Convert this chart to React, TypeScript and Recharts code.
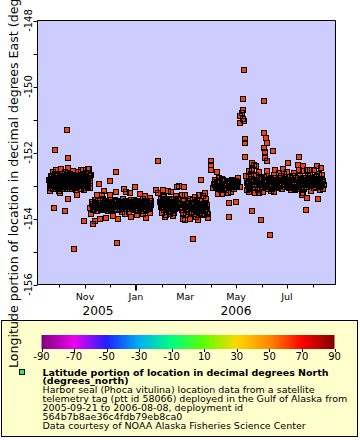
import React from 'react';
import { ScatterChart, Scatter, XAxis, YAxis, CartesianGrid, ReferenceArea } from 'recharts';

type Fix = [number, number];

// x: days since 2005-09-01 00:00 UTC, y: longitude (degrees_east)
const sepOctFixes: Fix[] = [
  [17.9, -152.84], [19.1, -153.03], [20.3, -152.72], [21.5, -152.93], [22.7, -152.6], [22.7, -153.12],
  [23.9, -152.78], [25.1, -152.99], [26.3, -152.54], [27.5, -152.87], [28.7, -152.69], [28.7, -153.09],
  [29.9, -153.18], [31.1, -152.78], [32.3, -152.51], [32.3, -152.96], [33.5, -152.72], [34.6, -153.06],
  [35.8, -152.84], [37.0, -152.6], [38.2, -152.93], [39.4, -152.75], [40.6, -152.48], [40.6, -153.12],
  [41.8, -152.87], [43.0, -152.66], [44.2, -152.99], [45.4, -152.78], [46.6, -152.57], [47.8, -152.9],
  [49.0, -153.09], [50.2, -152.72], [51.4, -152.93], [52.6, -152.6], [53.8, -153.03], [55.0, -152.81],
  [56.2, -152.54], [57.4, -152.96], [58.6, -152.72], [59.8, -153.15], [61.0, -152.87], [62.2, -152.63],
  [63.4, -153.03], [64.6, -152.78], [65.8, -152.51], [67.0, -152.93], [68.2, -152.69], [67.0, -153.09],
  [67.0, -152.72], [31.1, -153.24], [40.6, -153.42], [51.4, -153.3], [19.1, -153.18],
  [19.1, -152.87], [21.5, -152.75], [23.9, -153.03], [26.3, -152.81], [27.5, -153.06], [29.9, -152.93],
  [33.5, -152.87], [34.6, -152.78], [37.0, -153.03], [38.2, -152.72], [40.6, -152.96], [43.0, -152.84],
  [45.4, -153.06], [46.6, -152.9], [49.0, -152.78], [50.2, -152.99], [52.6, -152.84], [55.0, -153.03],
  [56.2, -152.75], [58.6, -152.93], [61.0, -152.75], [62.2, -152.99], [64.6, -152.9], [65.8, -152.72],
  [25.1, -152.66], [31.1, -153.03], [44.2, -152.81], [53.8, -152.9],
  [18.5, -152.95], [20.8, -153.08], [22.1, -152.82], [24.4, -152.9], [25.7, -153.1], [26.9, -152.7],
  [28.1, -152.86], [29.3, -153.0], [30.5, -152.75], [31.8, -152.92], [33.0, -153.1], [34.1, -152.66],
  [35.3, -152.97], [36.4, -152.8], [37.6, -153.12], [38.9, -152.86], [40.0, -152.67], [41.2, -153.02],
  [42.4, -152.76], [43.6, -152.95], [44.8, -152.7], [46.0, -153.1], [47.2, -152.83], [48.4, -152.68],
  [49.6, -152.96], [50.8, -153.13], [52.0, -152.77], [53.2, -152.98], [54.4, -152.7], [55.6, -152.9],
  [56.8, -153.1], [58.0, -152.83], [59.2, -152.66], [60.4, -152.97], [61.6, -153.07], [62.8, -152.8],
  [64.0, -152.96], [65.2, -152.62], [66.4, -152.86],
  [20.0, -152.9], [21.0, -152.8], [22.0, -153.0], [23.0, -152.86], [24.0, -152.94], [25.0, -152.76],
  [26.0, -152.92], [27.0, -153.02], [28.0, -152.78], [29.0, -152.9], [30.0, -153.04], [31.0, -152.84],
  [32.0, -152.74], [33.0, -152.98], [34.0, -152.88], [35.0, -152.76], [36.0, -153.0], [37.0, -152.9],
  [38.0, -152.8], [39.0, -153.04], [40.0, -152.88], [41.0, -152.76], [42.0, -152.96], [43.0, -153.06],
  [44.0, -152.9], [45.0, -152.74], [46.0, -152.86], [47.0, -153.0], [48.0, -152.8], [49.0, -152.92],
  [50.0, -152.84], [51.0, -153.04], [52.0, -152.94], [53.0, -152.78], [54.0, -152.88], [55.0, -152.74],
  [56.0, -152.98], [57.0, -152.84], [58.0, -153.02], [59.0, -152.88], [60.0, -152.78], [61.0, -152.98],
  [62.0, -152.9], [63.0, -152.76], [64.0, -153.06], [65.0, -152.84],
  [58.3, -152.54], [64.2, -152.5], [77.8, -152.96], [91.3, -152.86], [98.1, -152.59], [39.4, -151.32],
  [25.1, -151.93], [40.6, -152.17], [23.9, -153.69], [37.0, -153.78], [59.8, -154.08], [47.8, -154.93],
  [99.0, -154.75],
];

const novDecFixes: Fix[] = [
  [75.4, -153.3], [81.0, -153.28], [91.0, -153.3], [98.5, -153.2], [107.4, -153.11], [110.1, -153.2],
  [120.9, -153.05], [138.9, -153.38], [83.8, -153.18], [114.9, -153.24], [126.9, -153.27], [132.9, -153.33],
  [67.0, -153.69], [68.2, -153.85], [70.9, -154.18], [73.0, -154.08], [79.0, -154.0], [86.2, -153.97],
  [94.5, -153.91], [100.5, -154.0], [108.9, -153.85], [116.1, -153.94], [123.3, -153.88], [130.5, -153.85],
  [133.7, -153.99], [138.9, -153.82],
  [69.4, -153.57], [73.0, -153.45], [75.4, -153.69], [77.8, -153.54], [80.2, -153.75], [82.6, -153.42],
  [85.0, -153.63], [87.4, -153.51], [89.8, -153.72], [92.2, -153.45], [94.5, -153.6], [96.9, -153.75],
  [99.3, -153.48], [101.7, -153.66], [104.1, -153.54], [106.5, -153.42], [108.9, -153.63], [111.3, -153.51],
  [113.7, -153.72], [116.1, -153.45], [118.5, -153.6], [120.9, -153.75], [123.3, -153.48], [125.7, -153.63],
  [128.1, -153.54], [130.5, -153.42], [132.9, -153.66], [135.3, -153.51], [137.7, -153.6], [140.1, -153.48],
  [71.8, -153.63], [76.6, -153.48], [81.4, -153.6], [86.2, -153.54], [91.0, -153.63], [95.7, -153.51],
  [100.5, -153.57], [105.3, -153.69], [110.1, -153.57], [114.9, -153.63], [119.7, -153.51], [124.5, -153.69],
  [129.3, -153.6], [134.1, -153.75],
  [70.6, -153.75], [74.2, -153.57], [79.0, -153.66], [83.8, -153.75], [88.6, -153.6], [93.4, -153.69],
  [98.1, -153.63], [102.9, -153.75], [107.7, -153.51], [112.5, -153.63], [117.3, -153.72], [122.1, -153.6],
  [126.9, -153.69], [131.7, -153.54], [136.5, -153.69],
  [68.8, -153.5], [70.0, -153.7], [72.4, -153.53], [74.8, -153.78], [76.0, -153.62], [78.4, -153.44],
  [80.8, -153.67], [82.0, -153.52], [84.4, -153.7], [85.6, -153.46], [88.0, -153.78], [89.2, -153.55],
  [91.6, -153.7], [92.8, -153.52], [95.2, -153.66], [96.4, -153.45], [98.8, -153.71], [101.2, -153.5],
  [102.4, -153.62], [104.8, -153.8], [106.0, -153.56], [108.4, -153.7], [109.6, -153.46], [112.0, -153.57],
  [113.2, -153.8], [115.6, -153.52], [116.8, -153.68], [119.2, -153.43], [120.4, -153.62], [122.8, -153.55],
  [124.0, -153.78], [126.4, -153.5], [127.6, -153.66], [130.0, -153.57], [131.2, -153.76], [133.6, -153.47],
  [134.8, -153.62], [137.2, -153.54], [138.4, -153.72], [139.6, -153.58],
  [71.0, -153.56], [73.5, -153.66], [76.0, -153.52], [78.5, -153.6], [81.0, -153.7], [83.5, -153.56],
  [86.0, -153.66], [88.5, -153.5], [91.0, -153.56], [93.5, -153.62], [96.0, -153.56], [98.5, -153.5],
  [101.0, -153.6], [103.5, -153.7], [106.0, -153.64], [108.5, -153.54], [111.0, -153.66], [113.5, -153.56],
  [116.0, -153.58], [118.5, -153.68], [121.0, -153.54], [123.5, -153.6], [126.0, -153.56], [128.5, -153.7],
  [131.0, -153.62], [133.5, -153.56], [136.0, -153.66], [138.5, -153.52], [72.0, -153.7], [77.0, -153.62],
  [82.5, -153.48], [87.5, -153.66], [92.5, -153.74], [97.5, -153.6], [102.5, -153.54], [107.5, -153.6],
  [112.5, -153.5], [117.5, -153.54], [122.5, -153.68], [127.5, -153.58], [132.5, -153.5], [137.5, -153.64],
];

const febFixes: Fix[] = [
  [146.1, -153.15], [154.4, -153.15], [160.1, -153.17], [148.5, -153.24], [164.0, -153.21], [170.0, -153.33],
  [154.4, -153.33], [152.1, -153.54], [155.6, -153.75], [152.1, -153.42], [154.4, -153.66], [156.8, -153.51],
  [159.2, -153.72], [161.6, -153.45], [164.0, -153.6], [166.4, -153.75], [168.8, -153.51], [171.2, -153.66],
  [153.3, -153.69], [153.3, -153.82], [158.0, -153.88], [162.8, -153.85], [167.6, -153.82], [155.6, -153.36],
  [160.4, -153.57], [165.2, -153.42], [166.1, -153.93], [156.8, -153.94], [148.5, -152.27],
  [154.4, -153.57], [159.2, -153.48], [164.0, -153.69], [168.8, -153.63], [161.6, -153.79],
  [150.5, -153.5], [151.7, -153.65], [155.0, -153.45], [157.4, -153.6], [158.6, -153.4], [160.9, -153.68],
  [162.2, -153.52], [163.4, -153.78], [165.8, -153.55], [167.0, -153.7], [169.4, -153.58], [170.6, -153.45],
  [153.0, -153.6], [155.5, -153.52], [157.5, -153.7], [159.8, -153.6], [162.0, -153.66], [164.5, -153.5],
  [166.8, -153.62], [169.0, -153.7], [170.0, -153.56],
];

const marFixes: Fix[] = [
  [170.9, -153.05], [174.0, -153.03], [179.6, -153.05], [176.9, -153.3], [185.6, -153.53], [197.2, -153.28],
  [205.1, -153.24], [172.4, -153.42], [174.8, -153.6], [177.2, -153.75], [179.6, -153.48], [182.0, -153.88],
  [184.4, -153.66], [186.8, -153.42], [189.2, -153.79], [191.6, -153.57], [194.0, -153.94], [196.4, -153.69],
  [198.8, -153.48], [201.2, -153.85], [203.6, -153.63], [206.0, -153.42], [207.2, -153.79], [208.4, -153.97],
  [178.4, -154.0], [186.8, -154.0], [196.4, -154.06], [180.8, -153.3], [192.8, -153.36], [202.4, -153.33],
  [180.4, -154.05], [190.0, -154.63], [200.0, -152.84],
  [183.2, -153.73], [188.0, -153.6], [192.8, -153.75], [197.6, -153.88], [202.4, -153.72], [190.4, -153.45],
  [195.2, -153.54], [200.0, -153.66], [204.8, -153.54], [182.0, -153.57],
  [173.5, -153.52], [175.8, -153.68], [177.9, -153.57], [179.0, -153.82], [181.3, -153.64], [183.8, -153.48],
  [185.0, -153.8], [187.4, -153.52], [189.8, -153.68], [191.0, -153.86], [193.4, -153.62], [194.6, -153.48],
  [197.0, -153.6], [198.2, -153.78], [199.4, -153.55], [201.8, -153.62], [203.0, -153.9], [205.4, -153.7],
  [206.6, -153.58], [207.8, -153.85],
  [175.0, -153.6], [177.5, -153.66], [180.0, -153.58], [182.5, -153.72], [185.0, -153.62], [187.5, -153.7],
  [190.0, -153.56], [192.5, -153.66], [195.0, -153.76], [197.5, -153.64], [200.0, -153.74], [202.5, -153.6],
  [205.0, -153.78], [207.5, -153.64], [188.5, -153.82], [194.0, -153.7], [199.0, -153.84], [204.0, -153.66],
];

const aprFixes: Fix[] = [
  [212.0, -152.26], [212.0, -152.39], [212.0, -152.52], [218.8, -152.59], [216.7, -152.84], [225.1, -152.81],
  [237.1, -152.83], [243.9, -152.77], [217.1, -152.99], [225.1, -153.02], [233.2, -153.05], [241.5, -153.05],
  [220.0, -153.25], [225.1, -153.27], [232.0, -153.23], [220.3, -152.93], [222.7, -153.09], [227.5, -152.87],
  [229.9, -153.15], [234.7, -152.96], [239.5, -153.12], [244.3, -152.9], [246.7, -153.06], [214.3, -153.09],
  [221.5, -152.78], [235.9, -153.21], [241.9, -152.87], [233.5, -153.53], [241.5, -153.5], [233.5, -153.96],
  [228.7, -152.99], [232.3, -152.87], [238.3, -152.99], [223.9, -153.15],
  [215.5, -152.95], [218.2, -153.05], [219.4, -152.88], [221.0, -153.12], [223.2, -152.92], [224.4, -153.04],
  [226.8, -152.82], [228.0, -153.1], [230.6, -152.92], [231.4, -153.08], [233.8, -152.9], [236.6, -153.04],
  [238.8, -152.85], [240.2, -153.0], [242.6, -152.96],
  [217.0, -152.9], [219.0, -153.0], [221.0, -152.86], [223.0, -153.04], [225.0, -152.94], [227.0, -152.96],
  [229.0, -152.86], [231.0, -153.0], [233.0, -152.96], [235.0, -152.86], [237.0, -153.0], [239.0, -152.92],
  [241.0, -152.96], [243.0, -153.02],
];

const summerExcursions: Fix[] = [
  [251.5, -149.49], [250.3, -150.37], [275.4, -150.43], [250.6, -150.71], [248.7, -150.81], [246.7, -150.89],
  [250.6, -150.97], [246.7, -151.12], [251.5, -151.05], [252.7, -151.58], [252.7, -151.7], [275.8, -151.41],
  [277.8, -151.55], [278.7, -151.7], [275.8, -151.86], [276.6, -151.98], [278.7, -152.26], [286.2, -151.95],
  [252.7, -152.13], [277.0, -152.18], [261.1, -152.32], [265.9, -152.42], [261.1, -152.49], [263.1, -152.39],
  [261.1, -152.54], [260.2, -152.64], [303.8, -152.32], [317.4, -152.13], [316.5, -152.39], [321.8, -152.42],
  [322.5, -152.56], [338.6, -152.42], [343.7, -152.47], [344.9, -152.69], [330.6, -152.54], [335.0, -152.54],
];

const summerFixes: Fix[] = [
  [253.9, -152.72], [256.3, -152.93], [258.7, -153.09], [261.1, -152.81], [263.5, -152.99], [265.9, -152.69],
  [268.3, -153.15], [270.7, -152.87], [273.1, -153.06], [275.4, -152.75], [277.8, -152.93], [280.2, -153.12],
  [282.6, -152.81], [285.0, -152.99], [287.4, -152.69], [289.8, -152.9], [292.2, -153.09], [294.6, -152.78],
  [297.0, -152.96], [299.4, -152.66], [301.8, -152.84], [304.2, -153.03], [306.6, -152.75], [309.0, -152.93],
  [311.4, -152.63], [313.8, -152.84], [316.2, -153.06], [318.6, -152.72], [321.0, -152.9], [323.4, -153.12],
  [325.8, -152.78], [328.2, -152.96], [330.6, -152.69], [333.0, -152.87], [335.3, -153.09], [337.7, -152.75],
  [340.1, -152.93], [342.5, -153.15], [344.9, -152.81], [347.3, -152.99],
  [255.1, -153.15], [264.7, -153.24], [274.2, -153.21], [283.8, -153.18], [293.4, -152.63], [303.0, -152.6],
  [312.6, -153.15], [322.2, -153.24], [331.8, -153.18], [341.3, -152.66], [257.5, -152.57], [269.5, -152.6],
  [279.0, -152.57], [288.6, -152.54], [298.2, -152.51], [307.8, -153.15], [317.4, -152.54], [327.0, -152.54],
  [259.9, -152.9], [267.1, -152.96], [271.9, -152.78], [276.6, -153.03], [281.4, -152.9], [286.2, -152.84],
  [291.0, -152.99], [295.8, -152.87], [300.6, -153.06], [305.4, -152.87], [310.2, -152.78], [315.0, -152.96],
  [319.8, -152.81], [324.6, -152.99], [329.4, -152.84], [334.1, -152.99], [338.9, -152.84], [343.7, -153.03],
  [346.1, -152.87],
  [254.6, -152.85], [255.8, -153.02], [257.0, -152.75], [258.0, -152.95], [259.2, -153.1], [262.3, -152.9],
  [263.0, -152.72], [264.2, -153.05], [266.6, -152.86], [267.8, -153.1], [269.0, -152.76], [272.4, -152.96],
  [273.6, -152.8], [274.8, -153.08], [277.2, -152.82], [278.4, -153.0], [279.6, -152.72], [282.0, -153.04],
  [283.2, -152.86], [284.4, -152.76], [285.6, -153.1], [288.0, -152.92], [289.2, -152.78], [290.4, -153.04],
  [292.8, -152.86], [294.0, -153.0], [296.4, -152.72], [297.6, -153.1], [298.8, -152.84], [300.0, -152.98],
  [302.4, -152.74], [303.6, -152.93], [304.8, -153.08], [307.2, -152.82], [308.4, -153.04], [309.6, -152.72],
  [312.0, -152.98], [313.2, -152.76], [314.4, -153.1], [316.8, -152.92], [318.0, -152.82], [319.2, -153.06],
  [321.6, -152.76], [322.8, -152.98], [324.0, -152.86], [326.4, -153.06], [327.6, -152.7], [328.8, -152.9],
  [331.2, -153.02], [332.4, -152.76], [333.6, -152.94], [336.0, -152.86], [337.2, -153.06], [338.4, -152.72],
  [339.6, -152.98], [341.9, -152.86], [343.1, -153.06], [345.5, -152.9], [346.7, -153.1],
  [255.0, -152.92], [257.0, -152.86], [259.0, -153.0], [261.0, -152.9], [263.0, -152.84], [265.0, -152.96],
  [267.0, -152.82], [269.0, -152.98], [271.0, -152.86], [273.0, -152.92], [275.0, -152.88], [277.0, -152.98],
  [279.0, -152.86], [281.0, -152.96], [283.0, -152.8], [285.0, -152.9], [287.0, -152.98], [289.0, -152.86],
  [291.0, -152.92], [293.0, -152.82], [295.0, -152.94], [297.0, -152.84], [299.0, -152.94], [301.0, -152.9],
  [303.0, -152.82], [305.0, -152.96], [307.0, -152.9], [309.0, -152.84], [311.0, -152.94], [313.0, -152.9],
  [315.0, -152.82], [317.0, -153.0], [319.0, -152.9], [321.0, -152.84], [323.0, -152.94], [325.0, -152.88],
  [327.0, -152.96], [329.0, -152.8], [331.0, -152.92], [333.0, -152.96], [335.0, -152.8], [337.0, -152.92],
  [339.0, -152.9], [341.0, -152.96], [343.0, -152.9], [345.0, -152.82],
  [257.5, -153.2], [269.1, -153.23], [287.8, -153.08], [287.1, -153.2], [311.0, -153.08], [320.6, -153.3],
  [326.6, -153.38], [340.5, -153.42], [325.4, -153.73], [261.1, -153.78], [271.9, -154.06], [282.6, -154.51],
  [344.9, -152.94], [339.3, -152.94], [332.5, -152.84], [344.6, -152.96],
];

const monthStarts = [30, 61, 91, 122, 153, 181, 212, 242, 273, 303, 334];
const monthLabels = ['', 'Nov', '', 'Jan', '', 'Mar', '', 'May', '', 'Jul', ''];
const yearLabels = ['', '2005', '', '', '', '', '', '2006', '', '', ''];
const yearBoundary = 122;
const timeDomain: [number, number] = [4.1, 361.1];

const lonTicks = [-156, -155, -154, -153, -152, -151, -150, -149, -148];
const lonLabels = ['-156', '', '-154', '', '-152', '', '-150', '', '-148'];
const lonDomain: [number, number] = [-156, -148];

const colorbarTicks = [-90, -70, -50, -30, -10, 10, 30, 50, 70, 90];
const colorbarColors = ['#800080', '#ee00ee', '#2020ff', '#00b0f0', '#00ff80', '#60ff00', '#ffd700', '#ff8800', '#ff0000', '#800000'];

const legendTitle = ['Latitude portion of location in decimal degrees North', '(degrees_north)'];
const legendBody = [
  'Harbor seal (Phoca vitulina) location data from a satellite',
  'telemetry tag (ptt id 58066) deployed in the Gulf of Alaska from',
  '2005-09-21 to 2006-08-08, deployment id',
  '564b7b8ae36c4fdb79eb8ca0',
  'Data courtesy of NOAA Alaska Fisheries Science Center',
];
const yTitle = 'Longitude portion of location in decimal degrees East (degrees_east)';

const markerColor = '#fa4010';
const FONT = 'DejaVu Sans';

const allFixes: Fix[] = [
  ...sepOctFixes, ...novDecFixes, ...febFixes, ...marFixes, ...aprFixes, ...summerFixes, ...summerExcursions,
];
const points = allFixes.map(([day, lon]) => ({ day, lon }));

// markers are painted in two passes: all fills first, then all outlines
const MarkerFill = (props: any) => {
  const { cx, cy } = props;
  if (cx == null || cy == null) return <g />;
  const x = Math.round(cx);
  const y = Math.round(cy);
  return <rect x={x - 2} y={y - 2} width={4} height={4} fill={markerColor} />;
};

const MarkerOutline = (props: any) => {
  const { cx, cy } = props;
  if (cx == null || cy == null) return <g />;
  const x = Math.round(cx);
  const y = Math.round(cy);
  return <rect x={x - 2.5} y={y - 2.5} width={5} height={5} fill="none" stroke="#000" strokeWidth={1} />;
};

const XTick = (props: any) => {
  const { x, y, payload } = props;
  const i = monthStarts.indexOf(payload.value);
  const label = i >= 0 ? monthLabels[i] : '';
  const year = i >= 0 ? yearLabels[i] : '';
  const isBoundary = payload.value === yearBoundary;
  const xr = isBoundary ? Math.round(x) : Math.round(x) + 0.5;
  const len = isBoundary ? 6 : label ? 4 : 3;
  return (
    <g>
      <line x1={xr} x2={xr} y1={y} y2={y + len} stroke="#000" strokeWidth={isBoundary ? 2 : 1} />
      {label && (
        <text x={x} y={y + 15.3} textAnchor="middle" fontFamily={FONT} fontSize={9.5} fill="#000">
          {label}
        </text>
      )}
      {year && (
        <text x={x + (year === '2005' ? 13 : 0)} y={y + 30.3} textAnchor="middle" fontFamily={FONT} fontSize={12.2} fill="#000">
          {year}
        </text>
      )}
    </g>
  );
};

const YTick = (props: any) => {
  const { x, y, payload } = props;
  const i = lonTicks.indexOf(payload.value);
  const label = i >= 0 ? lonLabels[i] : '';
  const yr = Math.round(y) + 0.5;
  const bx = x - 5.8;
  return (
    <g>
      <line x1={x - 4} x2={x} y1={yr} y2={yr} stroke="#000" strokeWidth={1} />
      {label && (
        <text x={bx} y={y} transform={`rotate(-90 ${bx} ${y})`} textAnchor="middle" fontFamily={FONT} fontSize={10} fill="#000">
          {label}
        </text>
      )}
    </g>
  );
};

const YTitle = () => (
  <text x={17.5} y={368} transform="rotate(-90 17.5 368)" textAnchor="start" fontFamily={FONT} fontSize={12.6} fill="#000">
    {yTitle}
  </text>
);

const Legend = () => {
  const x0 = 41.5;
  const x1 = 334.5;
  const w = x1 - x0;
  return (
    <svg width={360} height={440} style={{ position: 'absolute', left: 0, top: 0 }}>
      <defs>
        <linearGradient id="cb" x1="0" x2="1" y1="0" y2="0">
          {colorbarTicks.map((v, i) => (
            <stop key={v} offset={(v + 90) / 180} stopColor={colorbarColors[i]} />
          ))}
        </linearGradient>
      </defs>
      <rect x={1.5} y={320.5} width={356} height={116} fill="#ffffcc" stroke="#000" strokeWidth={1} />
      <rect x={x0} y={335} width={w} height={14} fill="url(#cb)" />
      {colorbarTicks.map((v) => {
        const tx = x0 + ((v + 90) / 180) * w;
        return (
          <g key={v}>
            <line x1={Math.round(tx) + 0.5} x2={Math.round(tx) + 0.5} y1={349} y2={352} stroke="#000" />
            <text x={tx} y={360} textAnchor="middle" fontFamily={FONT} fontSize={10} fill="#000">
              {v}
            </text>
          </g>
        );
      })}
      <rect x={19.5} y={369.5} width={5} height={5} fill="#40e840" stroke="#000" strokeWidth={1} />
      {legendTitle.map((t, i) => (
        <text key={t} x={42.5} y={375.5 + i * 8.3} fontFamily={FONT} fontSize={9.5} fontWeight="bold" fill="#000">
          {t}
        </text>
      ))}
      {legendBody.map((t, i) => (
        <text key={t} x={42.5} y={393.3 + i * 9} fontFamily={FONT} fontSize={9.5} fill="#000">
          {t}
        </text>
      ))}
    </svg>
  );
};

export default function App() {
  return (
    <div style={{ position: 'fixed', left: 0, top: 0, width: 360, height: 440, background: '#fff', overflow: 'hidden' }}>
      <Legend />
      <div style={{ position: 'absolute', left: 0, top: 0 }}>
        <ScatterChart width={360} height={440} margin={{ top: 20.5, right: 24.5, bottom: 0, left: 0 }}>
          <CartesianGrid fill="#ccccff" fillOpacity={1} horizontal={false} vertical={false} />
          <XAxis
            type="number"
            dataKey="day"
            domain={timeDomain}
            allowDataOverflow
            ticks={monthStarts}
            interval={0}
            height={155.5}
            tickSize={0}
            tickMargin={0}
            tickLine={false}
            axisLine={{ stroke: '#000' }}
            tick={(p: any) => <XTick {...p} />}
          />
          <YAxis
            type="number"
            dataKey="lon"
            domain={lonDomain}
            allowDataOverflow
            ticks={lonTicks}
            interval={0}
            width={37.5}
            tickSize={0}
            tickMargin={0}
            tickLine={false}
            axisLine={{ stroke: '#000' }}
            tick={(p: any) => <YTick {...p} />}
            label={() => <YTitle />}
          />
          <Scatter data={points} shape={(p: any) => <MarkerFill {...p} />} isAnimationActive={false} />
          <Scatter data={points} shape={(p: any) => <MarkerOutline {...p} />} isAnimationActive={false} />
          <ReferenceArea x1={timeDomain[0]} x2={timeDomain[1]} y1={lonDomain[0]} y2={lonDomain[1]} fill="none" stroke="#000" strokeWidth={1} ifOverflow="visible" />
        </ScatterChart>
      </div>
    </div>
  );
}
